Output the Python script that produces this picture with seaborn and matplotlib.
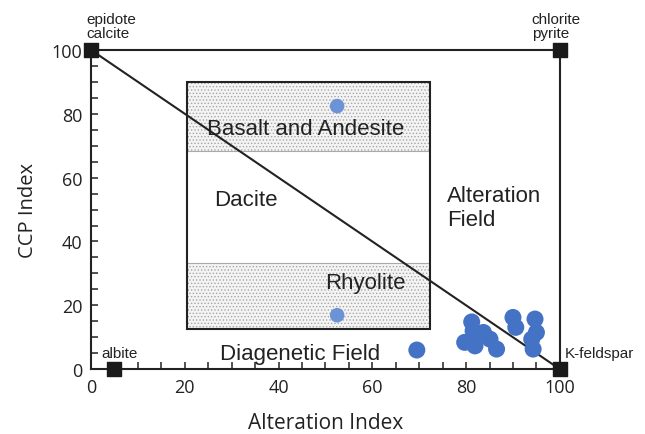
import matplotlib
matplotlib.use("Agg")
import matplotlib.pyplot as plt
import seaborn as sns
import pandas as pd
from matplotlib.patches import Rectangle
from matplotlib.ticker import MultipleLocator

# Data
alteration_index = [69.5, 79.7, 81.2, 81.5, 81.9, 83.7, 85.1, 86.5, 90.0, 90.6, 94.0, 94.3, 94.7, 95.0]
ccp_index = [6.0, 8.4, 14.8, 12.0, 7.3, 11.5, 9.4, 6.3, 16.2, 13.1, 9.4, 6.3, 15.7, 11.5]
ref_ai = [52.5, 52.5]
ref_ccp = [82.4, 16.9]
corner_x = [0, 100, 100, 5]
corner_y = [100, 100, 0, 0]
xticks = [0, 20, 40, 60, 80, 100]
yticks = [0, 20, 40, 60, 80, 100]

sns.set_style("white")
plt.rcParams['font.family'] = ['Liberation Sans', 'DejaVu Sans']
plt.rcParams['hatch.linewidth'] = 0.6

fig = plt.figure(figsize=(6.45, 4.35), dpi=100)
ax = fig.add_axes([0.141, 0.149, 0.727, 0.734])

# Inner box with bands
box_x0, box_x1 = 20.5, 72.3
ax.add_patch(Rectangle((box_x0, 68.3), box_x1 - box_x0, 90 - 68.3, facecolor='#f4f4f4',
                       edgecolor='#a5a5a5', hatch='.....', linewidth=0, zorder=1))
ax.add_patch(Rectangle((box_x0, 12.5), box_x1 - box_x0, 33.2 - 12.5, facecolor='#f4f4f4',
                       edgecolor='#a5a5a5', hatch='.....', linewidth=0, zorder=1))
ax.plot([box_x0, box_x1], [68.3, 68.3], color='#aaaaaa', lw=0.8, zorder=2)
ax.plot([box_x0, box_x1], [33.2, 33.2], color='#aaaaaa', lw=0.8, zorder=2)
ax.add_patch(Rectangle((box_x0, 12.5), box_x1 - box_x0, 90 - 12.5, facecolor='none',
                       edgecolor='#222222', linewidth=1.5, zorder=3))

# Outer lines
ax.plot([0, 100], [100, 100], color='#222222', lw=1.5, zorder=3, clip_on=False)
ax.plot([100, 100], [100, 0], color='#222222', lw=1.5, zorder=3, clip_on=False)
ax.plot([0, 100], [100, 0], color='#222222', lw=1.5, zorder=3, clip_on=False)

# Points
df = pd.DataFrame({'ai': alteration_index, 'ccp': ccp_index})
sns.scatterplot(data=df, x='ai', y='ccp', ax=ax, color='#4472c4', s=150,
                edgecolor='none', zorder=4, clip_on=False)
df_ref = pd.DataFrame({'ai': ref_ai, 'ccp': ref_ccp})
sns.scatterplot(data=df_ref, x='ai', y='ccp', ax=ax, color='#6b93d6', s=110,
                edgecolor='none', zorder=4)

# Corner markers
ax.scatter(corner_x, corner_y, marker='s', s=110, color='#1a1a1a', zorder=6, clip_on=False)

ax.set_xlim(0, 100)
ax.set_ylim(0, 100)
ax.set_xticks(xticks)
ax.set_yticks(yticks)
ax.xaxis.set_minor_locator(MultipleLocator(5))
ax.yaxis.set_minor_locator(MultipleLocator(5))
ax.tick_params(axis='both', which='both', direction='in', length=5, width=1.1,
               color='#222222', bottom=True, left=True, top=False, right=False)
for s in ['top', 'right']:
    ax.spines[s].set_visible(False)
for s in ['left', 'bottom']:
    ax.spines[s].set_color('#222222')
    ax.spines[s].set_linewidth(1.5)

tick_font = ['Open Sans', 'DejaVu Sans']
for lab in ax.get_xticklabels() + ax.get_yticklabels():
    lab.set_family(tick_font)
    lab.set_fontsize(13)
    lab.set_color('#222222')
ax.tick_params(axis='both', pad=6)
ax.set_xlabel('Alteration Index', family=tick_font, fontsize=15, color='#222222', labelpad=12)
ax.set_ylabel('CCP Index', family=tick_font, fontsize=14.5, color='#222222', labelpad=10)

# Annotations
kw = dict(fontsize=16, color='#222222', zorder=5)
ax.text(45.8, 75.5, 'Basalt and Andesite', ha='center', va='center', **kw)
ax.text(26.3, 53.3, 'Dacite', ha='left', va='center', **kw)
ax.text(58.6, 27.0, 'Rhyolite', ha='center', va='center', **kw)
ax.text(76.0, 50.6, 'Alteration\nField', ha='left', va='center', linespacing=1.2, **kw)
ax.text(44.6, 5.0, 'Diagenetic Field', ha='center', va='center', **kw)

small = dict(fontsize=11, color='#222222', zorder=5)
ax.text(2.3, 5.0, 'albite', ha='left', va='center', **small)
ax.text(101.0, 5.0, 'K-feldspar', ha='left', va='center', clip_on=False, **small)
ax.text(-1.0, 103.0, 'epidote\ncalcite', ha='left', va='bottom', linespacing=1.05, **small)
ax.text(94.0, 103.0, 'chlorite\npyrite', ha='left', va='bottom', linespacing=1.05, **small)

fig.savefig('out.png', dpi=100)
